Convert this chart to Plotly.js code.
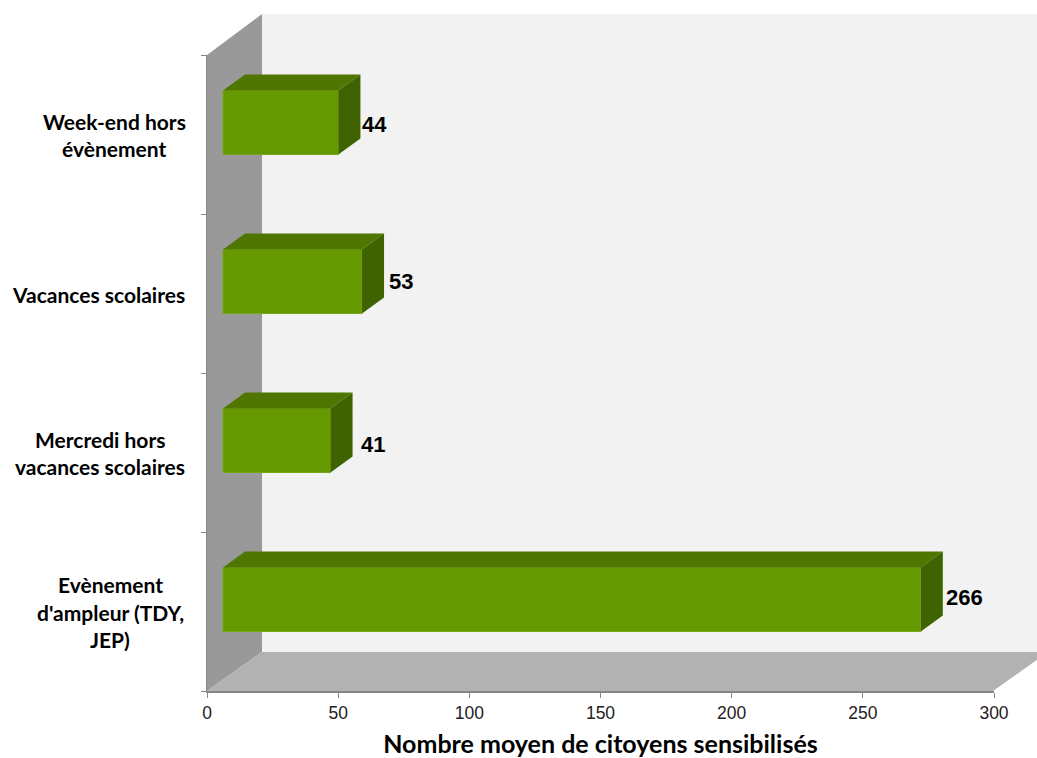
<!DOCTYPE html>
<html><head><meta charset="utf-8">
<script src="https://cdn.plot.ly/plotly-3.0.1.min.js"></script>
<style>html,body{margin:0;padding:0;background:#fff}#c{width:1037px;height:758px}</style>
</head><body><div id="c"></div>
<script>
// Data, bottom to top
const categories = ["Evènement<br>d'ampleur (TDY,<br>JEP)", "Mercredi hors<br>vacances scolaires", "Vacances scolaires", "Week-end hors<br>évènement"];
const values = [266, 41, 53, 44];
const xTicks = [0, 50, 100, 150, 200, 250, 300];

// Plot frame in pixels
const W = 1037, H = 758, L = 207, R = 994, T = 55, B = 691;
const pxX = (R - L) / 300, pxY = (B - T) / 4;
// Pseudo-3D geometry in axis units
const barBase = 16 / pxX, barShiftY = 12 / pxY, barH = 64 / pxY;
const depthX = 22 / pxX, depthY = 16 / pxY;
const yPos = categories.map((_, i) => i + 0.5 + barShiftY);

const topFaces = {
  type: 'scatter', mode: 'lines', fill: 'toself', cliponaxis: false, hoverinfo: 'skip', showlegend: false,
  fillcolor: '#4f7600', line: {width: 0},
  x: [], y: []
};
const sideFaces = {
  type: 'scatter', mode: 'lines', fill: 'toself', cliponaxis: false, hoverinfo: 'skip', showlegend: false,
  fillcolor: '#3f6300', line: {width: 0},
  x: [], y: []
};
values.forEach((v, i) => {
  const x0 = barBase, x1 = barBase + v, yt = yPos[i] + barH / 2, yb = yPos[i] - barH / 2;
  topFaces.x.push(x0, x0 + depthX, x1 + depthX, x1, x0, null);
  topFaces.y.push(yt, yt + depthY, yt + depthY, yt, yt, null);
  sideFaces.x.push(x1, x1 + depthX, x1 + depthX, x1, x1, null);
  sideFaces.y.push(yt, yt + depthY, yb + depthY, yb, yt, null);
});

const bars = {
  type: 'bar', orientation: 'h', x: values, y: yPos, base: barBase, width: barH,
  marker: {color: '#669900', line: {color: '#76a61a', width: 1}}, showlegend: false,
  cliponaxis: false
};

// Walls, in paper coordinates
const px = x => (x - L) / (R - L), py = y => (B - y) / (B - T);
const poly = (pts, color) => ({
  type: 'path', xref: 'paper', yref: 'paper', layer: 'below', fillcolor: color, line: {width: 0},
  path: pts.map((p, i) => (i ? 'L' : 'M') + px(p[0]) + ',' + py(p[1])).join(' ') + ' Z'
});
const shapes = [
  poly([[262, 14], [1048, 14], [1048, 652], [262, 652]], '#f2f2f2'),
  poly([[207, 55], [262, 14], [262, 652], [207, 691]], '#999999'),
  poly([[207, 691], [262, 652], [1048, 652], [993, 691]], '#b2b2b2')
];

// Category labels: one centred text per line, for the wider line spacing
const catFont = {family: 'Lato, "Open Sans", sans-serif', size: 21, color: '#000', weight: 700};
const blockCentres = [110, 100, 98, 114];
const lineGap = 27.5;
const annotations = [];
categories.forEach((c, i) => {
  const lines = c.split('<br>');
  lines.forEach((t, j) => annotations.push({
    xref: 'paper', yref: 'y', x: px(blockCentres[i]), y: i + 0.5, text: t, showarrow: false,
    xanchor: 'center', yanchor: 'middle', font: catFont,
    yshift: -0.5 + ((lines.length - 1) / 2 - j) * lineGap
  }));
});
const nudges = [[1, 2], [6, -4], [3, 0], [0, -2]];
values.forEach((v, i) => annotations.push({
  xref: 'x', yref: 'y', x: barBase + v + depthX, y: yPos[i], text: String(v), showarrow: false,
  xanchor: 'left', yanchor: 'middle', xshift: nudges[i][0], yshift: nudges[i][1],
  font: {family: '"Liberation Sans", Arial, sans-serif', size: 22, color: '#000', weight: 700}
}));

Plotly.newPlot('c', [bars, topFaces, sideFaces], {
  width: W, height: H, paper_bgcolor: '#fff', plot_bgcolor: 'rgba(0,0,0,0)',
  margin: {l: L, r: W - R, t: T, b: H - B, pad: 0},
  bargap: 0, showlegend: false, shapes, annotations,
  xaxis: {
    range: [0, 300], tickvals: xTicks, ticktext: xTicks.map(String), ticks: 'outside', ticklen: 5, tickwidth: 1,
    tickcolor: '#868686', showgrid: false, zeroline: false, showline: true, linecolor: '#868686', linewidth: 2,
    tickfont: {family: '"Liberation Sans", Arial, sans-serif', size: 17.5, color: '#222'},
    title: {text: 'Nombre moyen de citoyens sensibilisés', standoff: 26,
      font: {family: 'Lato, "Open Sans", sans-serif', size: 25, color: '#000', weight: 700}},
    automargin: false
  },
  yaxis: {
    range: [0, 4], tickvals: [0, 1, 2, 3, 4], ticktext: ['', '', '', '', ''], ticks: 'outside', ticklen: 5, tickwidth: 1,
    tickcolor: '#868686', showgrid: false, zeroline: false, showline: true, linecolor: '#868686', linewidth: 1
  }
}, {displayModeBar: false, staticPlot: true});
</script></body></html>
